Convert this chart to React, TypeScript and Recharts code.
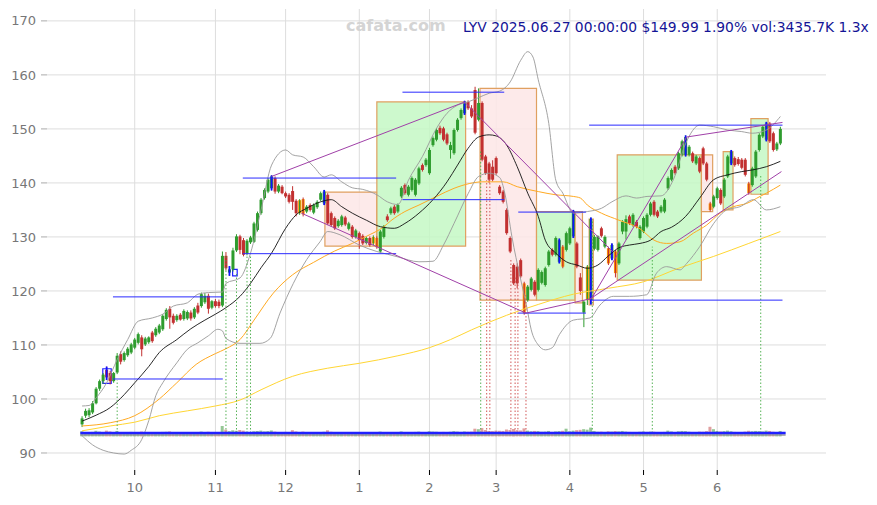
import {
  ComposedChart,
  Bar,
  Cell,
  Line,
  XAxis,
  YAxis,
  CartesianGrid,
  ReferenceArea,
  ReferenceLine,
} from 'recharts'

// trading days from 2024-09-10 to 2025-06-27, index = trading day number
const monthTicks = [15, 38, 58, 79, 99, 118, 139, 160, 181]
const monthLabels = ['10', '11', '12', '1', '2', '3', '4', '5', '6']
const priceTicks = [90, 100, 110, 120, 130, 140, 150, 160, 170]

// open, high, low, close
const ohlc: number[][] = [
  [95.3, 96.8, 94.8, 96.4], [96.9, 98.2, 96.5, 97.8], [97.0, 98.3, 96.6, 97.9], [97.5, 99.6, 97.2, 99.2],
  [99.2, 102.2, 99.0, 101.9], [101.9, 103.6, 101.5, 103.3], [103.3, 104.8, 102.8, 104.5], [105.4, 106.0, 103.5, 104.0],
  [104.8, 105.2, 102.7, 103.3], [103.3, 105.0, 103.0, 104.8], [104.9, 108.5, 104.6, 108.0], [108.3, 108.8, 106.4, 106.9],
  [107.2, 108.8, 106.9, 108.5], [108.1, 109.6, 107.8, 109.3], [108.6, 110.4, 108.3, 110.1], [109.5, 111.3, 109.2, 111.0],
  [110.4, 112.3, 110.1, 112.0], [111.4, 111.8, 107.9, 109.2], [110.1, 111.5, 109.8, 111.2], [110.5, 111.6, 110.2, 111.4],
  [112.3, 112.6, 110.4, 110.7], [111.8, 113.3, 111.5, 113.0], [112.3, 113.9, 112.0, 113.6], [112.9, 115.7, 112.6, 115.4],
  [114.8, 116.8, 114.5, 116.5], [116.7, 117.2, 113.0, 115.1], [115.4, 115.8, 113.8, 114.1], [114.6, 115.7, 114.3, 115.4],
  [115.6, 115.9, 114.5, 114.7], [114.8, 116.6, 114.5, 116.3], [114.9, 116.4, 114.6, 116.1], [116.0, 116.4, 114.5, 114.9],
  [115.1, 117.0, 114.8, 116.7], [117.3, 117.8, 115.7, 116.0], [117.2, 119.7, 116.9, 119.4], [117.9, 119.6, 117.6, 119.1],
  [119.1, 119.5, 115.8, 116.7], [116.9, 118.3, 116.6, 118.1], [118.1, 118.5, 116.9, 117.2], [118.0, 118.4, 116.8, 117.2],
  [117.3, 127.3, 117.0, 126.5], [126.5, 127.2, 123.8, 124.2], [123.4, 124.6, 122.8, 124.0], [124.0, 128.0, 123.6, 127.5],
  [127.5, 130.5, 127.2, 130.1], [130.1, 130.4, 126.8, 127.6], [129.4, 129.8, 126.4, 126.7], [126.9, 129.6, 126.6, 129.3],
  [129.0, 130.2, 128.7, 129.9], [129.1, 132.8, 128.9, 132.5], [131.3, 134.7, 131.0, 134.4], [134.4, 137.2, 134.1, 136.9],
  [137.2, 139.0, 136.9, 138.7], [138.4, 140.9, 138.1, 140.6], [139.0, 141.4, 138.6, 141.2], [140.9, 141.2, 138.0, 138.4],
  [138.4, 139.8, 138.1, 139.5], [139.3, 139.6, 137.9, 138.1], [138.1, 138.4, 137.2, 137.5], [137.8, 138.1, 136.2, 136.5],
  [138.5, 139.4, 135.0, 136.5], [136.7, 137.0, 133.8, 134.4], [134.4, 137.0, 134.1, 136.8], [137.0, 137.3, 133.8, 134.2],
  [134.7, 135.9, 134.4, 135.6], [135.9, 136.2, 134.7, 135.0], [134.5, 136.2, 134.2, 135.9], [135.5, 136.8, 135.2, 136.5],
  [136.9, 138.4, 136.6, 138.1], [136.2, 138.7, 135.9, 138.4], [137.8, 138.1, 132.2, 132.5], [134.4, 134.7, 131.9, 132.2],
  [133.5, 133.8, 131.3, 131.6], [132.0, 133.3, 131.7, 133.0], [132.2, 134.1, 131.9, 133.8], [133.6, 133.9, 132.0, 132.3],
  [131.5, 132.8, 131.2, 132.5], [131.9, 132.2, 129.7, 130.0], [130.0, 131.5, 129.7, 131.2], [130.7, 131.0, 127.8, 129.4],
  [130.2, 130.5, 128.5, 128.8], [128.9, 130.1, 128.6, 129.8], [129.8, 130.1, 128.2, 128.5], [128.8, 130.3, 128.5, 130.0],
  [129.8, 130.1, 127.8, 128.1], [127.3, 131.3, 127.0, 131.0], [130.0, 132.2, 129.7, 131.9], [133.8, 134.2, 132.8, 133.1],
  [134.4, 135.6, 134.1, 135.3], [135.6, 135.9, 134.1, 134.4], [134.7, 136.2, 134.4, 135.9], [137.5, 139.4, 137.2, 139.1],
  [139.6, 139.9, 137.8, 138.1], [137.8, 139.6, 137.5, 139.3], [138.7, 141.2, 138.4, 140.9], [137.8, 140.9, 137.5, 140.6],
  [139.9, 143.0, 139.6, 142.7], [143.3, 143.6, 142.1, 142.4], [143.3, 144.6, 143.0, 144.3], [141.8, 146.5, 141.5, 146.1],
  [147.0, 148.6, 146.7, 148.3], [148.0, 150.1, 147.7, 149.8], [150.2, 150.6, 148.9, 149.2], [150.1, 150.4, 147.7, 148.0],
  [149.0, 149.3, 147.0, 147.3], [146.1, 147.6, 144.5, 147.0], [145.5, 150.1, 145.2, 149.8], [149.8, 152.0, 149.5, 151.7],
  [152.0, 153.8, 151.7, 153.5], [152.9, 155.2, 152.6, 154.9], [155.0, 155.3, 153.5, 153.8], [153.8, 154.4, 152.0, 152.3],
  [157.2, 157.8, 149.0, 149.3], [151.7, 157.5, 151.4, 154.8], [154.8, 155.1, 144.0, 144.3], [144.9, 145.2, 141.5, 141.8],
  [143.6, 143.9, 140.0, 140.6], [143.0, 144.2, 140.3, 140.6], [144.6, 144.9, 141.5, 141.8], [139.3, 139.6, 137.8, 138.1],
  [138.4, 138.7, 136.2, 136.5], [135.0, 135.3, 130.4, 130.7], [129.8, 130.1, 127.0, 127.3], [124.8, 125.1, 121.1, 121.4],
  [124.5, 125.1, 120.5, 121.4], [125.7, 126.0, 122.4, 122.7], [121.4, 121.7, 115.6, 115.9], [118.3, 121.1, 118.0, 120.8],
  [120.2, 122.6, 119.9, 122.3], [121.7, 122.0, 119.0, 119.3], [120.2, 124.2, 119.9, 123.9], [121.5, 123.8, 121.2, 123.5],
  [121.1, 124.5, 120.8, 124.2], [124.8, 127.6, 124.5, 127.3], [127.6, 127.9, 126.4, 126.7], [126.7, 130.1, 126.4, 129.8],
  [125.4, 129.7, 125.1, 129.4], [128.2, 128.5, 124.2, 124.5], [127.6, 131.0, 127.3, 130.7], [128.8, 131.9, 128.5, 131.6],
  [130.1, 135.0, 129.8, 134.7], [128.8, 129.1, 124.2, 124.5], [122.5, 123.3, 119.3, 120.0], [116.0, 118.3, 113.3, 118.0],
  [118.3, 124.8, 117.4, 124.5], [118.3, 133.6, 117.5, 133.3], [127.8, 130.4, 127.5, 130.0], [127.6, 130.3, 127.3, 130.1],
  [131.6, 131.9, 129.9, 130.2], [128.2, 130.3, 127.9, 130.0], [127.9, 128.2, 124.8, 125.1], [126.0, 128.8, 125.7, 128.5],
  [127.3, 127.6, 122.5, 123.3], [125.1, 129.1, 124.8, 128.8], [131.0, 133.1, 130.5, 132.8], [131.0, 134.0, 129.5, 133.3],
  [133.8, 134.1, 132.2, 132.5], [132.2, 134.4, 131.9, 134.1], [132.8, 133.1, 131.6, 131.9], [129.8, 132.2, 129.5, 131.9],
  [131.0, 133.8, 130.7, 133.5], [131.9, 134.4, 131.6, 134.1], [134.1, 136.5, 133.8, 136.2], [136.5, 136.8, 133.8, 134.1],
  [134.7, 135.0, 133.5, 133.8], [134.7, 135.9, 134.4, 135.6], [134.7, 137.2, 134.4, 136.9], [139.0, 141.2, 138.7, 140.9],
  [140.6, 142.7, 140.3, 142.4], [143.0, 143.3, 141.5, 141.8], [142.7, 145.8, 142.4, 145.5], [145.2, 148.0, 144.9, 147.7],
  [145.2, 148.8, 144.9, 148.5], [145.2, 147.0, 144.9, 146.7], [145.5, 145.8, 143.7, 144.0], [143.6, 145.2, 143.3, 144.9],
  [144.6, 144.9, 141.8, 142.1], [146.4, 146.7, 143.3, 143.6], [143.6, 143.9, 140.3, 140.6], [136.2, 136.5, 134.7, 135.0],
  [135.6, 137.8, 135.3, 137.5], [137.2, 139.3, 136.9, 139.0], [138.7, 139.0, 135.9, 136.2], [137.5, 140.9, 137.2, 140.6],
  [141.2, 145.2, 140.9, 144.9], [143.6, 146.1, 143.3, 145.8], [144.6, 144.9, 143.0, 143.3], [144.4, 144.8, 143.2, 143.5],
  [144.3, 144.6, 142.5, 142.8], [144.3, 144.6, 141.2, 141.5], [139.9, 140.2, 137.8, 138.1], [139.6, 143.0, 139.3, 142.7],
  [141.2, 146.1, 140.9, 145.8], [146.1, 149.2, 145.8, 148.9], [148.6, 150.7, 148.3, 150.4], [148.0, 151.3, 147.7, 151.0],
  [151.0, 151.3, 147.4, 147.7], [149.2, 149.5, 145.8, 146.1], [146.2, 147.6, 145.9, 147.3], [147.3, 150.4, 147.0, 150.0],
]

// daily volume, millions
const volume = [
  3.2, 2.6, 2.4, 2.8, 3.5, 3.0, 2.7, 3.6, 3.1, 2.5, 3.4, 2.6, 2.3, 2.5, 2.8, 2.7, 2.4, 3.0, 2.2, 2.1,
  2.6, 2.4, 2.3, 2.8, 2.9, 3.1, 2.5, 2.2, 2.0, 2.3, 2.1, 2.4, 2.2, 2.5, 3.0, 2.4, 2.9, 2.3, 2.6, 2.5,
  6.5, 4.2, 3.3, 3.8, 3.5, 4.0, 3.6, 2.9, 2.6, 3.2, 3.4, 3.6, 3.1, 3.3, 3.7, 3.0, 2.5, 2.6, 2.8, 2.7,
  3.9, 3.1, 2.7, 3.0, 2.4, 2.3, 2.2, 2.4, 2.6, 2.9, 3.8, 2.9, 2.7, 2.2, 2.3, 2.4, 2.0, 2.6, 2.2, 2.5,
  2.4, 2.1, 2.3, 2.6, 2.7, 3.0, 2.6, 2.5, 2.4, 2.2, 2.3, 3.1, 2.6, 2.4, 2.7, 2.8, 3.0, 2.5, 2.6, 3.2,
  3.0, 2.9, 2.7, 2.8, 2.6, 2.9, 3.3, 3.0, 2.8, 3.1, 2.9, 3.0, 4.8, 4.5, 5.2, 4.0, 3.4, 3.3, 3.6, 3.5,
  3.4, 4.3, 4.0, 4.6, 3.9, 3.7, 5.0, 3.6, 3.2, 3.4, 3.3, 2.9, 3.0, 3.4, 2.8, 3.1, 3.3, 3.5, 4.8, 3.2,
  3.6, 3.9, 4.1, 4.5, 4.2, 5.5, 3.4, 2.9, 3.0, 2.8, 3.2, 3.0, 3.3, 3.1, 3.4, 3.0, 2.8, 2.7, 2.6, 2.9,
  3.1, 2.8, 3.0, 2.9, 2.6, 2.5, 2.8, 3.6, 3.1, 2.7, 3.2, 3.4, 3.3, 2.9, 2.7, 2.6, 3.0, 2.9, 3.3, 6.0,
  4.5, 3.4, 3.1, 3.3, 3.6, 3.2, 2.8, 2.6, 2.7, 3.0, 3.5, 3.2, 3.4, 3.3, 3.1, 3.6, 3.4, 2.9, 2.6, 3.4,
]

const blueMarks = [7, 42, 54, 69, 109, 136, 140, 145, 151, 172, 185, 195]
const orangeMarks = [62, 63, 83, 84, 126, 137, 144, 150, 152, 179, 190]

// indicator lines: [day index, price]
const ma20 = [
  [0, 95.9], [4, 97], [8, 98.4], [12, 100.8], [15, 103], [19, 106], [22, 108.6], [27, 111], [31, 113], [35, 114.6],
  [38, 115.7], [41, 116.9], [45, 119], [48, 121.4], [51, 124.3], [54, 127], [58, 131.6], [61, 134.1], [64, 135.3],
  [68, 136.5], [71, 136.9], [74, 135.6], [77, 134.4], [81, 133.1], [85, 131.9], [89, 131.6], [92, 132.5], [96, 134.4],
  [100, 136.9], [104, 140.2], [107, 143.3], [110, 146.4], [113, 148.5], [116, 148.9], [118, 148.7], [121, 147],
  [124, 143], [127, 138.1], [130, 133.8], [132, 129.4], [135, 127], [138, 125.4], [141, 124.8], [144, 124.2],
  [147, 124.8], [150, 126.5], [153, 128], [156, 128.5], [159, 128.8], [162, 129.4], [165, 131], [168, 131.8],
  [172, 133.8], [176, 137.2], [180, 140.6], [184, 141.5], [188, 142.1], [191, 142.4], [195, 143], [199, 144],
]
const bbUpper = [
  [0, 98.7], [2, 98.8], [4, 100.2], [7, 103], [10, 107.3], [13, 111], [16, 114.4], [20, 115], [23, 115.7], [26, 117.2],
  [30, 117.8], [33, 119.4], [36, 119.7], [40, 119.8], [41, 121.4], [45, 122.4], [48, 127], [51, 135], [54, 143.3],
  [58, 146.1], [60, 145.2], [63, 144.8], [66, 143], [69, 141.1], [71, 141.5], [74, 140.2], [77, 139.1], [80, 138.8],
  [84, 137.8], [87, 136.5], [90, 136], [93, 140.5], [97, 144.9], [101, 150.1], [104, 152.9], [107, 154.4], [110, 155],
  [113, 155.8], [116, 156.6], [119, 157], [122, 158.7], [125, 162.7], [127, 164.3], [128.5, 163.3], [130, 159.1],
  [133, 151], [135, 140.5], [137, 138.1], [140, 134.4], [144, 134.7], [148, 135.3], [151, 136.5], [155, 137.6],
  [158, 137.2], [161, 137.5], [165, 137.6], [168.5, 140.6], [172, 147.3], [176, 150.7], [180, 150.4], [184, 149.8],
  [188, 149.5], [191, 149.2], [195, 149.8], [199, 152.3],
]
const bbLower = [
  [0, 93.2], [3, 91.5], [6, 90.5], [9, 90], [12, 89.8], [14, 90.5], [17, 92.5], [19, 96], [21, 100.6], [23, 103],
  [27, 106.7], [30, 109.2], [33, 110.4], [36, 111.7], [38.7, 112.9], [40, 112.6], [41, 111.2], [45, 110.3],
  [50.7, 110.3], [53.6, 111.2], [56.4, 115.9], [60.2, 121.4], [64, 125.8], [67.8, 129.1], [70, 131], [73.5, 130.4],
  [79, 128.5], [84, 127.3], [87, 126.8], [90, 126.3], [96, 125.4], [100, 125.5], [103, 128.5], [106, 132.5],
  [110, 138], [113, 141.2], [116, 141.8], [119, 141], [120.5, 138], [122.5, 130], [124.8, 122.7], [126.7, 117.1],
  [128, 112.8], [130, 110], [132, 109.1], [134, 109.5], [136, 111.9], [140, 114.6], [144.7, 115], [147.6, 117.4],
  [151.4, 119], [156, 119], [160.9, 119.3], [163.7, 123.3], [166.6, 124.5], [170.4, 123.9], [172.3, 125.1],
  [176, 128.2], [180, 132.5], [183.7, 135], [187.5, 135.6], [191.3, 136.9], [195, 135], [199, 135.6],
]
const ma60 = [
  [0, 95], [8, 95.6], [15, 96.9], [22, 100], [27, 103], [32.5, 106.4], [38, 108.4], [41, 109.3], [45, 111],
  [49, 114.6], [54.5, 119.6], [60, 123], [66, 125.3], [72, 127.4], [77, 128.8], [81, 130.1], [86, 131.9], [88, 133],
  [92, 134.7], [96, 135.9], [101, 137.5], [106, 139], [110.5, 139.9], [114, 140.2], [120, 140.2], [124, 139.3],
  [130, 138.4], [135, 137.8], [140, 137.5], [142, 137.2], [144, 135.9], [148, 134.4], [153, 133.1], [159, 131.5],
  [163, 129.4], [166.6, 128.8], [170.4, 129.1], [174.2, 130.7], [178, 132.2], [181.8, 134.4], [185.6, 135.6],
  [189.4, 136.2], [193.2, 137.5], [195, 138.1], [199, 139.6],
]
const ma120 = [
  [0, 94.1], [8, 95], [15, 95.7], [22, 96.9], [30, 97.8], [38, 98.7], [45, 99.8], [51, 101.7], [60, 104.2],
  [70, 105.7], [79, 106.6], [90, 108], [99, 109.5], [105, 111], [111, 112.8], [121, 115.5], [130, 117.5],
  [140, 119.4], [150, 120.5], [160, 121.7], [170, 124.2], [180, 126.4], [190, 128.8], [199, 131],
]

// boxes: [x1, x2, yBottom, yTop, up?]
const boxes: [number, number, number, number, boolean][] = [
  [69.2, 84, 128.3, 138.3, false],
  [84, 109.3, 128.3, 155, true],
  [113.4, 129.5, 118.3, 157.5, false],
  [129.5, 140.5, 118.3, 134.7, true],
  [140.5, 142.6, 117.8, 134.7, false],
  [144.5, 145.7, 117.4, 133.3, false],
  [152.5, 176.5, 122, 145.2, true],
  [176.5, 179.7, 134.7, 145.2, false],
  [182.7, 185.5, 135, 145.8, true],
  [190.6, 195.5, 137.9, 151.9, true],
]
const smallBoxes = [
  [5.9, 8.3, 102.9, 105.6],
  [42.9, 44.2, 122.8, 124],
]

// horizontal levels: [x1, x2, price]
const levels = [
  [8.8, 40.1, 118.9], [8.8, 40.1, 103.7], [45.8, 89.5, 140.9], [45.8, 89.5, 126.9],
  [91.3, 120.3, 156.8], [91.3, 120.3, 136.9], [124.3, 143.6, 134.6], [124.3, 143.6, 115.9],
  [144.5, 199.6, 150.7], [145.2, 199.6, 118.3],
]
// trend lines: [x1, y1, x2, y2]
const trends = [
  [54, 141.2, 109.1, 155], [109.1, 154.9, 151.3, 127.2], [62.5, 134.4, 126.5, 115.9],
  [126.5, 115.9, 145.2, 118.6], [145.2, 118.6, 172.3, 148.5], [172.3, 148.5, 199.6, 151.2],
  [144.5, 118.4, 199.3, 142.1],
]
// dotted signal lines: [day, price, buy?]
const signals: [number, number, boolean][] = [
  [10, 103.5, true], [41, 126.5, true], [44, 123.5, true], [47, 126.5, true], [48, 126.7, true],
  [113.6, 146, true], [115.3, 140.5, false], [116.2, 140.5, false], [122.2, 126, false],
  [123.4, 122.5, false], [124.2, 122.5, false], [126.5, 119.5, false], [145.4, 133, true],
  [162.5, 128.2, true], [193.4, 141.5, true],
]

const GREEN = '#2e9c2e'
const RED = '#c23030'
const VOL_LEVEL = 93.7

const rows = ohlc.map((d, i) => ({
  i,
  o: d[0],
  h: d[1],
  l: d[2],
  c: d[3],
  vol: volume[i],
  mark: blueMarks.includes(i) ? 'blue' : orangeMarks.includes(i) ? 'orange' : '',
}))

const toPts = (arr: number[][]) => arr.map(([i, v]) => ({ i, v }))

function Candle(props: any) {
  const { x, y, width, height, payload } = props
  const { o, h, l, c, mark } = payload
  const top = Math.min(y, y + height)
  const bot = Math.max(y, y + height)
  const k = (bot - top) / (h - l)
  const cx = x + width / 2
  const col = c >= o ? GREEN : RED
  const bTop = top + (h - Math.max(o, c)) * k
  const bH = Math.max(1, Math.abs(o - c) * k)
  const bw = 3
  return (
    <g>
      <line x1={cx} x2={cx} y1={top} y2={bot} stroke={col} strokeWidth={1} />
      <rect x={cx - bw / 2} y={bTop} width={bw} height={bH} fill={mark === 'orange' ? '#ff9900' : col} />
      {mark === 'orange' && <rect x={cx - 0.6} y={bTop} width={1.2} height={bH} fill={col} />}
      {mark === 'blue' && <rect x={cx - 0.9} y={top} width={1.8} height={bot - top} fill="#1010ff" />}
    </g>
  )
}

export default function App() {
  return (
    <div style={{ position: 'absolute', left: 0, top: 0, width: 877, height: 505, fontFamily: 'DejaVu Sans', background: '#fff' }}>
      <ComposedChart width={877} height={505} data={rows} margin={{ top: 9, right: 0, bottom: 0, left: 0 }}>
        <CartesianGrid stroke="#dddddd" strokeWidth={1} horizontalValues={priceTicks} verticalValues={monthTicks} />
        <XAxis
          type="number"
          dataKey="i"
          domain={[-10, 212]}
          ticks={monthTicks}
          tickFormatter={(v: number) => monthLabels[monthTicks.indexOf(v)]}
          height={35}
          axisLine={false}
          tickLine={{ stroke: '#000' }}
          tickSize={5}
          tickMargin={8}
          tick={{ fill: '#777', fontSize: 13 }}
          interval={0}
        />
        <XAxis xAxisId="v" type="number" dataKey="i" domain={[-10, 212]} hide />
        <YAxis
          domain={[86.85, 172.2]}
          ticks={priceTicks}
          width={47}
          axisLine={false}
          tickLine={{ stroke: '#aaa' }}
          tickSize={6}
          tickMargin={5}
          tick={{ fill: '#777', fontSize: 13 }}
          interval={0}
        />
        <YAxis
          yAxisId="r"
          orientation="right"
          domain={[86.85, 172.2]}
          ticks={priceTicks}
          width={51}
          axisLine={false}
          tickLine={false}
          tickSize={6}
          tickMargin={6}
          tick={{ fill: '#777', fontSize: 13 }}
          interval={0}
        />
        <YAxis yAxisId="v" domain={[-21, 267]} hide />

        {boxes.map(([x1, x2, y1, y2, up], n) => (
          <ReferenceArea
            key={'b' + n}
            x1={x1}
            x2={x2}
            y1={y1}
            y2={y2}
            fill={up ? '#c4f8c4' : '#fde6e6'}
            fillOpacity={0.85}
            stroke="#e0a060"
            strokeWidth={1.2}
          />
        ))}
        {smallBoxes.map(([x1, x2, y1, y2], n) => (
          <ReferenceArea key={'s' + n} x1={x1} x2={x2} y1={y1} y2={y2} fill="none" stroke="#2020ff" strokeWidth={1.2} />
        ))}

        <Line data={toPts(ma120)} dataKey="v" type="monotone" stroke="#ffd633" strokeWidth={1} dot={false} isAnimationActive={false} />
        <Line data={toPts(ma60)} dataKey="v" type="monotone" stroke="#ffaa22" strokeWidth={1} dot={false} isAnimationActive={false} />
        <Line data={toPts(bbUpper)} dataKey="v" type="monotone" stroke="#999" strokeWidth={0.9} dot={false} isAnimationActive={false} />
        <Line data={toPts(bbLower)} dataKey="v" type="monotone" stroke="#999" strokeWidth={0.9} dot={false} isAnimationActive={false} />
        <Line data={toPts(ma20)} dataKey="v" type="monotone" stroke="#111" strokeWidth={0.9} dot={false} isAnimationActive={false} />

        <Bar xAxisId="v" yAxisId="v" dataKey="vol" barSize={3} isAnimationActive={false}>
          {rows.map((r) => (
            <Cell key={'v' + r.i} fill={r.c >= r.o ? '#4fa04f' : '#cc6060'} fillOpacity={0.6} />
          ))}
        </Bar>

        {signals.map(([x, p, buy], n) => (
          <ReferenceLine
            key={'d' + n}
            segment={[{ x, y: VOL_LEVEL }, { x, y: p }]}
            stroke={buy ? '#44aa44' : '#cc4444'}
            strokeDasharray="1.5 2"
            strokeWidth={0.9}
          />
        ))}
        {levels.map(([x1, x2, p], n) => (
          <ReferenceLine key={'h' + n} segment={[{ x: x1, y: p }, { x: x2, y: p }]} stroke="#2a2aff" strokeWidth={1} />
        ))}
        {trends.map(([x1, y1, x2, y2], n) => (
          <ReferenceLine key={'t' + n} segment={[{ x: x1, y: y1 }, { x: x2, y: y2 }]} stroke="#a040a8" strokeWidth={1} />
        ))}
        <ReferenceLine segment={[{ x: -0.5, y: VOL_LEVEL - 0.35 }, { x: 200.5, y: VOL_LEVEL - 0.35 }]} stroke="#999" strokeWidth={1.5} />
        <ReferenceLine segment={[{ x: -0.5, y: VOL_LEVEL }, { x: 200.5, y: VOL_LEVEL }]} stroke="#2020ff" strokeWidth={2.5} />

        <Bar dataKey={(d: any) => [d.l, d.h]} barSize={3} shape={(p: any) => <Candle {...p} />} isAnimationActive={false} />
      </ComposedChart>
      <div style={{ position: 'absolute', left: 346, top: 18, fontSize: 16, fontWeight: 'bold', color: '#d4d4d4', lineHeight: '16px' }}>
        cafata.com
      </div>
      <div style={{ position: 'absolute', left: 463, top: 20, fontSize: 13.85, color: '#141496', lineHeight: '14px', whiteSpace: 'nowrap' }}>
        LYV 2025.06.27 00:00:00 $149.99 1.90% vol:3435.7K 1.3x
      </div>
    </div>
  )
}
